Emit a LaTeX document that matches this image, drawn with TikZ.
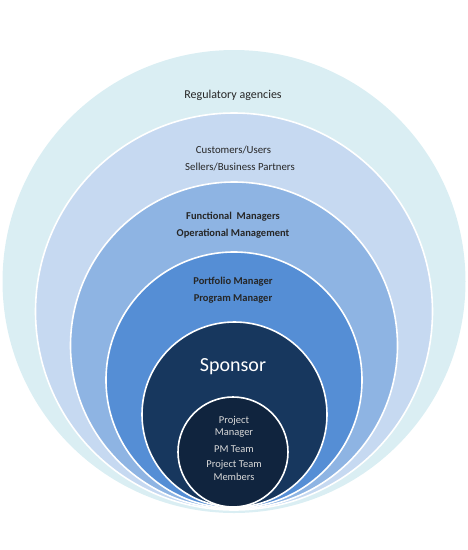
\documentclass[tikz,border=0pt]{standalone}
\usepackage{fontspec}
\setmainfont{Carlito}
\definecolor{c1}{HTML}{DAEEF3}
\definecolor{c2}{HTML}{C6D9F1}
\definecolor{c3}{HTML}{8EB4E3}
\definecolor{c4}{HTML}{558ED5}
\definecolor{c5}{HTML}{17375E}
\definecolor{c6}{HTML}{10243E}
\definecolor{darktxt}{HTML}{262626}
\definecolor{lighttxt}{HTML}{D9D9D9}
\begin{document}
\begin{tikzpicture}[x=1pt,y=-1pt,
  ring/.style={draw=white, line width=1.6pt},
  lbl/.style={inner sep=0pt, text=darktxt, font=\fontsize{10.8}{12}\selectfont},
  blbl/.style={inner sep=0pt, text=darktxt, font=\fontsize{10.5}{12}\selectfont\bfseries},
  wlbl/.style={inner sep=0pt, text=lighttxt, font=\fontsize{10.5}{12}\selectfont}]
\useasboundingbox (0,0) rectangle (468,550);
\fill[c1] (234,281.5) circle (231.5);
\draw[ring, fill=c2] (234,311.5) circle (198.5);
\draw[ring, fill=c3] (234,345.5) circle (163.5);
\draw[ring, fill=c4] (234,380) circle (128);
\draw[ring, fill=c5] (234.5,414.5) circle (92.5);
\draw[ring, fill=c6] (233,452) circle (55);
\node[lbl, font=\fontsize{12}{14}\selectfont] (reg) at (233,95) {Regulatory agencies};
\node[lbl] (cust) at (233.5,150) {Customers/Users};
\node[lbl] (sell) at (240,167) {Sellers/Business Partners};
\node[blbl] (func) at (233,217) {Functional~ Managers};
\node[blbl] (oper) at (233,234) {Operational Management};
\node[blbl] (port) at (233,282) {Portfolio Manager};
\node[blbl] (prog) at (233,299) {Program Manager};
\node[inner sep=0pt, text=white, font=\fontsize{20}{24}\selectfont] (spon) at (233,367) {Sponsor};
\node[wlbl] (pm1) at (234,421) {Project};
\node[wlbl] (pm2) at (234,433) {Manager};
\node[wlbl] (pmt) at (234,449) {PM Team};
\node[wlbl] (ptm1) at (234,465) {Project Team};
\node[wlbl] (ptm2) at (234,477) {Members};
\end{tikzpicture}
\end{document}
